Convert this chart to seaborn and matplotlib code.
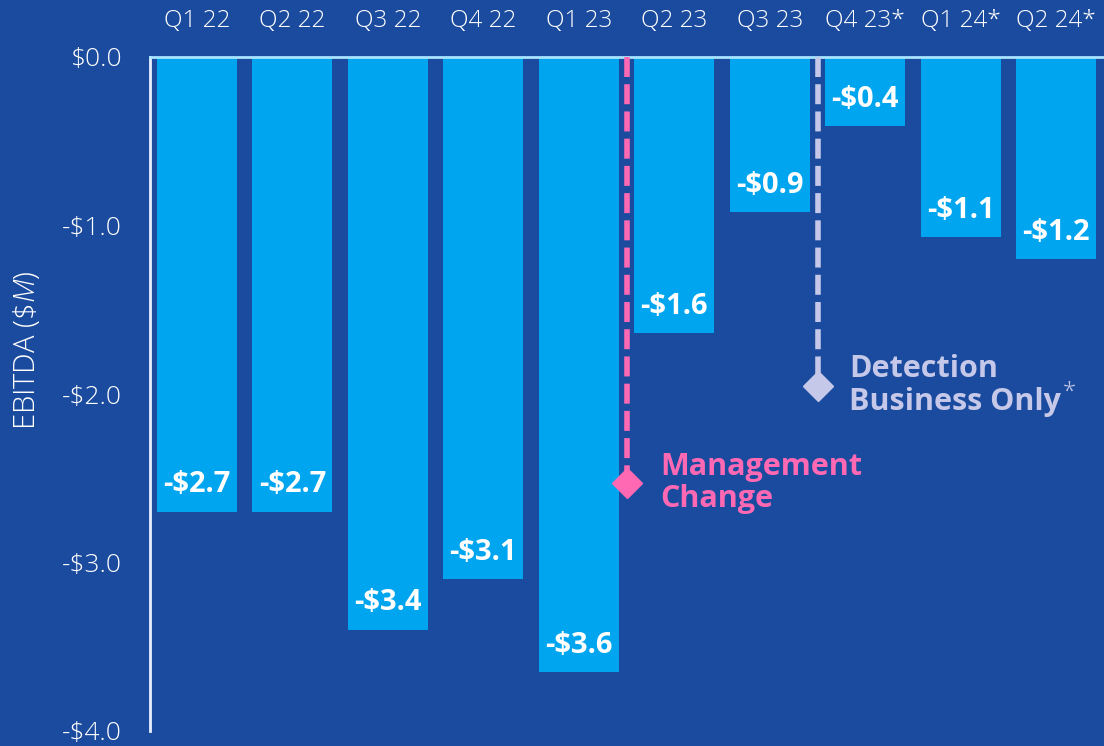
import matplotlib
matplotlib.use("Agg")
import matplotlib.pyplot as plt
import seaborn as sns
import pandas as pd

quarters = ['Q1 22', 'Q2 22', 'Q3 22', 'Q4 22', 'Q1 23', 'Q2 23', 'Q3 23', 'Q4 23*', 'Q1 24*', 'Q2 24*']
ebitda = [-2.7, -2.7, -3.4, -3.1, -3.65, -1.64, -0.92, -0.41, -1.07, -1.2]
value_labels = ['-$2.7', '-$2.7', '-$3.4', '-$3.1', '-$3.6', '-$1.6', '-$0.9', '-$0.4', '-$1.1', '-$1.2']
y_ticks = [0, -1, -2, -3, -4]
y_tick_labels = ['$0.0', '-$1.0', '-$2.0', '-$3.0', '-$4.0']

# event markers: (position between bars, depth of the diamond)
mgmt_pos, mgmt_depth = 4.5, -2.53
detect_pos, detect_depth = 6.5, -1.95

bg = '#1b4b9e'
bar_color = '#00a5f0'
pink = '#ff69b4'
lav = '#c5c8e8'

sns.set_style("white")
plt.rcParams['font.family'] = ['Open Sans', 'DejaVu Sans']
plt.rcParams['mathtext.fontset'] = 'custom'
plt.rcParams['mathtext.it'] = 'Open Sans:italic:light'
plt.rcParams['mathtext.rm'] = 'Open Sans:light'

df = pd.DataFrame({'quarter': quarters, 'ebitda': ebitda})

fig = plt.figure(figsize=(11.04, 7.46), dpi=100, facecolor=bg)
ax = fig.add_axes([150 / 1104, 15 / 746, 954 / 1104, 674 / 746])
ax.set_facecolor(bg)

sns.barplot(data=df, x='quarter', y='ebitda', color=bar_color, saturation=1,
            width=0.835, edgecolor='none', linewidth=0, ax=ax)

for i, (v, lab) in enumerate(zip(ebitda, value_labels)):
    ax.text(i, v + 0.16, lab, ha='center', va='center', color='white',
            fontsize=21, fontweight='bold')

# management change marker
ax.plot([mgmt_pos, mgmt_pos], [0, mgmt_depth], color=pink, lw=4, ls=(0, (3.6, 1.3)), zorder=3)
ax.plot(mgmt_pos, mgmt_depth, marker='D', color=pink, ms=15, zorder=4)
ax.text(mgmt_pos + 0.35, mgmt_depth, 'Management\nChange', color=pink, fontsize=22,
        fontweight='bold', ha='left', va='center', linespacing=1.1)

# detection business marker
ax.plot([detect_pos, detect_pos], [0, detect_depth], color=lav, lw=4, ls=(0, (3.6, 1.3)), zorder=3)
ax.plot(detect_pos, detect_depth, marker='D', color=lav, ms=15, zorder=4)
det = ax.text(detect_pos + 0.33, detect_depth, 'Detection\nBusiness Only', color=lav, fontsize=22,
              fontweight='bold', ha='left', va='center', linespacing=1.1)

ax.set_xlim(-0.49, 9.5)
ax.set_ylim(-4.0, 0.0)
ax.set_yticks(y_ticks)
ax.set_yticklabels(y_tick_labels)
ax.xaxis.tick_top()
ax.tick_params(axis='x', length=0, pad=17, labelsize=17.5, labelcolor='white')
ax.tick_params(axis='y', length=0, pad=20, labelsize=19, labelcolor='white')
for t in ax.get_xticklabels() + ax.get_yticklabels():
    t.set_fontweight('light')
ax.set_xlabel('')
ax.set_ylabel(r'EBITDA ($\it{\$M}$)', color='white', fontsize=21, fontweight='light')
ax.yaxis.set_label_coords(-0.113, 0.565)

# superscript asterisk after "Business Only"
renderer = fig.canvas.get_renderer()
bb = det.get_window_extent(renderer).transformed(ax.transData.inverted())
ax.text(bb.x1 + 0.02, bb.y0 + 0.14, '*', color=lav, fontsize=17, fontweight='light',
        ha='left', va='center')

for s in ['right', 'bottom']:
    ax.spines[s].set_visible(False)
ax.spines['left'].set_color('#e8f0ff')
ax.spines['left'].set_linewidth(2)
ax.spines['top'].set_color('#a8e4ff')
ax.spines['top'].set_linewidth(2)

fig.savefig('out.png', dpi=100, facecolor=bg)
